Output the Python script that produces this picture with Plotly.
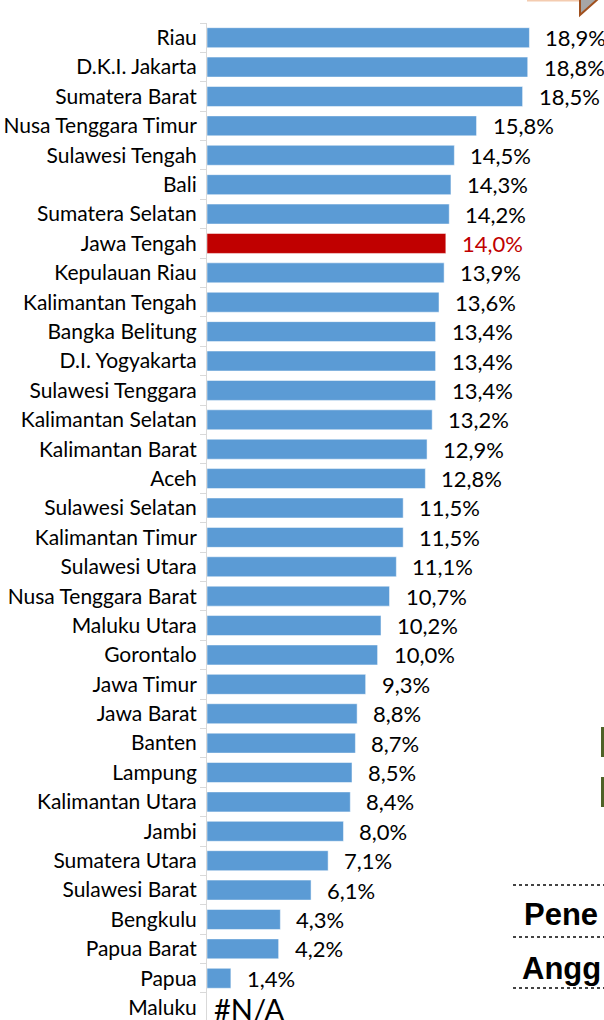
import plotly.graph_objects as go

provinces = ["Riau", "D.K.I. Jakarta", "Sumatera Barat", "Nusa Tenggara Timur", "Sulawesi Tengah",
             "Bali", "Sumatera Selatan", "Jawa Tengah", "Kepulauan Riau", "Kalimantan Tengah",
             "Bangka Belitung", "D.I. Yogyakarta", "Sulawesi Tenggara", "Kalimantan Selatan",
             "Kalimantan Barat", "Aceh", "Sulawesi Selatan", "Kalimantan Timur", "Sulawesi Utara",
             "Nusa Tenggara Barat", "Maluku Utara", "Gorontalo", "Jawa Timur", "Jawa Barat",
             "Banten", "Lampung", "Kalimantan Utara", "Jambi", "Sumatera Utara", "Sulawesi Barat",
             "Bengkulu", "Papua Barat", "Papua", "Maluku"]
values = [18.9, 18.8, 18.5, 15.8, 14.5, 14.3, 14.2, 14.0, 13.9, 13.6,
          13.4, 13.4, 13.4, 13.2, 12.9, 12.8, 11.5, 11.5, 11.1, 10.7,
          10.2, 10.0, 9.3, 8.8, 8.7, 8.5, 8.4, 8.0, 7.1, 6.1,
          4.3, 4.2, 1.4, None]
highlight = "Jawa Tengah"

BLUE = "#5B9BD5"
RED = "#C00000"
FONT = "Lato"

W, H = 604, 1020
L, T, R, B = 207, 23, 0, 0
PW, PH = W - L - R, H - T - B

colors = [RED if p == highlight else BLUE for p in provinces]
xvals = [v if v is not None else 0 for v in values]

fig = go.Figure()
fig.add_trace(go.Bar(
    y=provinces, x=xvals, orientation="h",
    marker=dict(color=colors, line=dict(color="rgba(255,255,255,0.5)", width=1)),
    hoverinfo="skip",
))

annotations = []
for p, v in zip(provinces, values):
    if v is None:
        annotations.append(dict(x=0, y=p, xref="x", yref="y", text="#N/A", showarrow=False,
                                xanchor="left", yanchor="middle", xshift=5, yshift=-1,
                                font=dict(family=FONT, size=29, color="#000000")))
    else:
        txt = f"{v:.1f}".replace(".", ",") + "%"
        annotations.append(dict(x=v, y=p, xref="x", yref="y", text=txt, showarrow=False,
                                xanchor="left", yanchor="middle", xshift=14,
                                font=dict(family=FONT, size=22,
                                          color=RED if p == highlight else "#000000")))

def px(x):
    return (x - L) / PW

def py(y):
    return 1 - (y - T) / PH

# slide fragments around the chart
annotations.append(dict(x=px(522), y=py(914), xref="paper", yref="paper", text="<b>Pene</b>",
                        showarrow=False, xanchor="left", yanchor="middle",
                        font=dict(family="Liberation Sans", size=31, color="#000000")))
annotations.append(dict(x=px(520), y=py(968), xref="paper", yref="paper", text="<b>Angg</b>",
                        showarrow=False, xanchor="left", yanchor="middle",
                        font=dict(family="Liberation Sans", size=31, color="#000000")))

shapes = []
for yy in (885, 937, 988):
    shapes.append(dict(type="line", xref="paper", yref="paper", x0=px(513), x1=px(604),
                       y0=py(yy), y1=py(yy), line=dict(color="#444444", width=2, dash="dot")))
for y0, y1 in ((727, 757), (777, 807)):
    shapes.append(dict(type="rect", xref="paper", yref="paper", x0=px(601), x1=px(604),
                       y0=py(y1), y1=py(y0), fillcolor="#4F6228", line=dict(width=0)))
shapes.append(dict(type="line", xref="paper", yref="paper", x0=px(527), x1=px(580),
                   y0=py(0.5), y1=py(0.5), line=dict(color="#F4CCB0", width=2)))
shapes.append(dict(type="path", xref="paper", yref="paper",
                   path=f"M {px(580)},{py(-1)} L {px(580)},{py(15)} L {px(598)},{py(-1)} Z",
                   fillcolor="#A6A6A6", line=dict(color="#A0501E", width=2)))

fig.update_layout(
    width=W, height=H,
    margin=dict(l=L, r=R, t=T, b=B),
    paper_bgcolor="white", plot_bgcolor="white",
    showlegend=False,
    bargap=0.32,
    annotations=annotations,
    shapes=shapes,
    xaxis=dict(range=[0, PW / 17.06], visible=False, fixedrange=True),
    yaxis=dict(
        type="category", categoryorder="array", categoryarray=provinces,
        range=[33.42, -0.5],
        showline=True, linecolor="#D9D9D9", linewidth=1,
        ticks="outside", tickson="boundaries", ticklen=6, tickcolor="#D9D9D9",
        showgrid=False, zeroline=False,
        tickfont=dict(family=FONT, size=21, color="#000000"),
        ticklabelstandoff=5,
        fixedrange=True,
    ),
)

fig.write_html("out.html", config={"displayModeBar": False},
               post_script="document.body.style.margin='0';document.body.style.overflow='hidden';")
